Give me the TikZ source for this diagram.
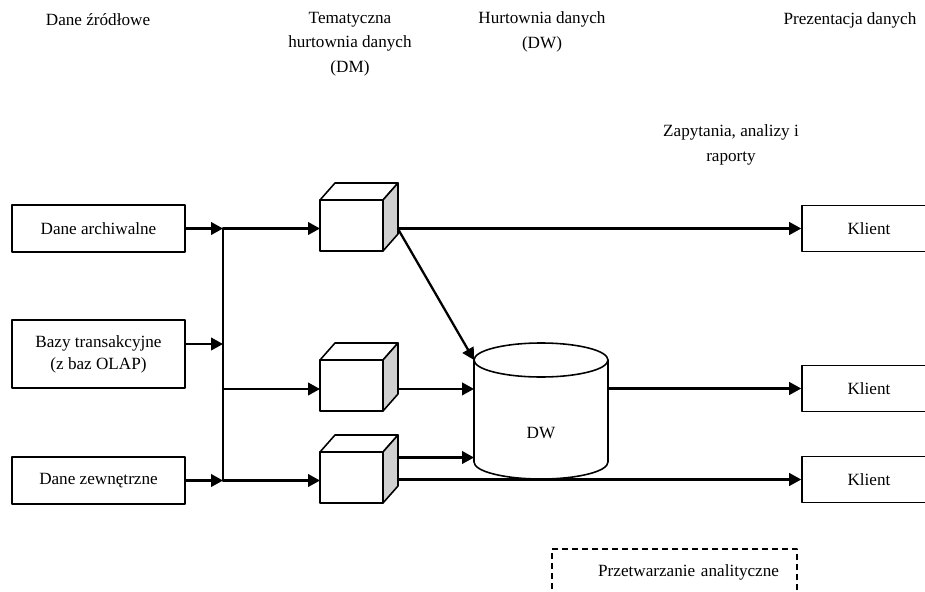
\documentclass[tikz,border=0pt]{standalone}
\usepackage{fontspec}
\setmainfont{Liberation Serif}
\usetikzlibrary{arrows.meta}
\definecolor{sidegray}{RGB}{208,208,208}

\begin{document}
\begin{tikzpicture}[line cap=round,line join=round,x=0.7pt,y=-0.7pt,
  font=\fontsize{12}{17}\selectfont,
  box/.style={draw,line width=1.1pt,minimum width=121.1pt,minimum height=32.9pt,
    align=center,font=\fontsize{12}{15.4}\selectfont},
  client/.style={draw,line width=1.1pt,minimum width=93.8pt,minimum height=32.2pt},
  cubefront/.style={draw,line width=1.1pt,fill=white,inner sep=0pt,outer sep=0pt,
    minimum width=44.1pt,minimum height=35.7pt},
  cubeline/.style={draw,line width=1.1pt},
  dwbody/.style={inner sep=0pt,outer sep=0pt,minimum width=93.8pt,minimum height=71.4pt},
  wire/.style={line width=1.6pt},
  arr/.style={line width=1.6pt,-{Triangle[length=8.4pt,width=8.8pt]}},
  procbox/.style={draw,dashed,line cap=butt,dash pattern=on 4pt off 3pt,line width=1pt,
    text width=146.3pt,align=right,inner xsep=12.6pt,minimum height=32.2pt}]

\useasboundingbox (0,0) rectangle (925,592);

% column headings
\node (src) at (98,20) {Dane źródłowe};
\node[align=center] (dmhead) at (350,44) {Tematyczna\\hurtownia danych\\(DM)};
\node[align=center] (dwhead) at (542,32) {Hurtownia danych\\(DW)};
\node (prez) at (850,20) {Prezentacja danych};
\node[align=center] (query) at (731,145) {Zapytania, analizy i\\raporty};

% source boxes
\node[box] (arch) at (98.5,228.5) {Dane archiwalne};
\node[box,minimum height=47.6pt] (trans) at (98.5,354) {Bazy transakcyjne\\(z baz OLAP)};
\node[box] (zewn) at (98.5,480.5) {Dane zewnętrzne};

\coordinate (bus1) at (223,228.5);
\coordinate (bus2) at (223,389);
\coordinate (bus3) at (223,480.5);
\coordinate (transout) at ([yshift=7pt]trans.east);

\draw[arr] (arch) -- (bus1);
\draw[arr] (transout) -- (transout -| bus1);
\draw[arr] (zewn) -- (bus3);
\draw[wire] (bus1) -- (bus3);

% data marts
\node[cubefront] (dm1) at (351.5,225.5) {};
\node[cubefront] (dm2) at (351.5,385.5) {};
\node[cubefront] (dm3) at (351.5,477.5) {};
\foreach \c in {dm1,dm2,dm3}{
  \draw[cubeline,fill=white] (\c.north west) -- ++(15,-17) -- ([shift={(15,-17)}]\c.north east) -- (\c.north east) -- cycle;
  \draw[cubeline,fill=sidegray] (\c.north east) -- ++(15,-17) -- ([shift={(15,-17)}]\c.south east) -- (\c.south east) -- cycle;
  \coordinate (\c r) at ([xshift=10.5pt,yshift=-2.4pt]\c.east);
}
\coordinate (dm3u) at ([xshift=10.5pt,yshift=14pt]dm3.east);

\draw[arr] (bus1) -- (bus1 -| dm1.west);
\draw[arr] (bus2) -- (bus2 -| dm2.west);
\draw[arr] (bus3) -- (bus3 -| dm3.west);

% warehouse
\node[dwbody] (dw) at (541,411) {};
\draw[cubeline,fill=white] (dw.north west) -- (dw.south west)
  arc[start angle=180,end angle=360,x radius=46.9pt,y radius=11.9pt] -- (dw.north east);
\draw[cubeline,fill=white] (dw.north) ellipse[x radius=46.9pt,y radius=11.9pt];
\node (dwlabel) at (541,433) {DW};

% clients
\node[client] (k1) at (869,228.5) {Klient};
\node[client] (k2) at (869,388.5) {Klient};
\node[client] (k3) at (869,479.5) {Klient};

\draw[arr] (dm1r |- k1) -- (k1.west);
\draw[arr] (dm1r) -- (dw.north west);
\draw[arr] (dm2r) -- (dm2r -| dw.west);
\draw[arr] (dm3u) -- (dm3u -| dw.west);
\draw[arr] (dm3r |- k3) -- (k3.west);
\draw[arr] (dw.east |- k2) -- (k2.west);

\node[procbox] (proc) at (674.5,572) {Przetwarzanie analityczne};
\end{tikzpicture}
\end{document}
